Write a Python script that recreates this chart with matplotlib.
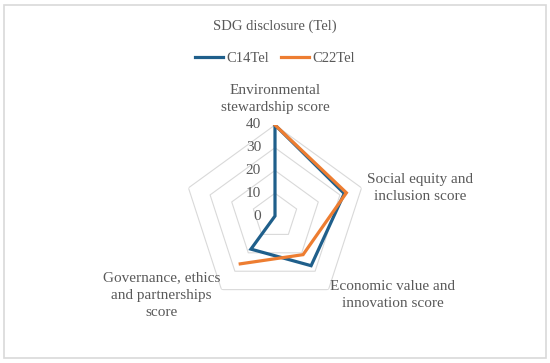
import numpy as np
import matplotlib.pyplot as plt
from matplotlib.patches import Rectangle

# Categories (5th axis has no label) and series values
categories = [
    "Environmental\nstewardship score",
    "Social equity and\ninclusion score",
    "Economic value and\ninnovation score",
    "Governance, ethics\nand partnerships\nscore",
    "",
]
c14_tel = [40, 32, 27, 18, 0]
c22_tel = [40, 33, 21, 26, np.nan]
ring_values = [10, 20, 30, 40]
tick_values = [0, 10, 20, 30, 40]

blue = "#1F5F8B"
orange = "#ED7D31"
grey_text = "#595959"
grid_col = "#D9D9D9"

plt.rcParams['font.family'] = ['Liberation Serif', 'DejaVu Serif']

fig = plt.figure(figsize=(5.5, 3.63), dpi=100)
fig.patches.append(Rectangle((0.007, 0.014), 0.986, 0.972, transform=fig.transFigure,
                             fill=False, edgecolor=grid_col, linewidth=1.2))

ax = fig.add_axes([184 / 550, 56 / 363, 182 / 550, 182 / 363], projection='polar')
ax.set_theta_offset(np.pi / 2)
ax.set_theta_direction(-1)
ax.set_ylim(0, 40)
ax.grid(False)
ax.spines['polar'].set_visible(False)
ax.set_xticks([])
ax.set_yticks([])
ax.patch.set_alpha(0)

n = len(categories)
theta = np.linspace(0, 2 * np.pi, n, endpoint=False)
theta_closed = np.append(theta, theta[0])

# pentagon grid rings
for v in ring_values:
    ax.plot(theta_closed, [v] * (n + 1), color=grid_col, linewidth=0.8, zorder=1)

ax.plot(theta_closed, c14_tel + [c14_tel[0]], color=blue, linewidth=2.3,
        solid_joinstyle='miter', zorder=3, label="C14Tel")
ax.plot(theta_closed, c22_tel + [c22_tel[0]], color=orange, linewidth=2.3,
        solid_joinstyle='miter', zorder=3, label="C22Tel")

for v in tick_values:
    ax.annotate(str(v), xy=(0, v), xytext=(-10, 0), textcoords='offset points',
                ha='right', va='center', fontsize=11, color=grey_text)

label_offsets = [(0, 19), (4, 0), (1, -4), (-1, -4), (0, 0)]
label_align = ['center', 'left', 'left', 'right', 'center']
for t, lab, off, ha in zip(theta, categories, label_offsets, label_align):
    if lab:
        ax.annotate(lab, xy=(t, 40), xytext=off, textcoords='offset points',
                    ha=ha, va='center', fontsize=11, color=grey_text,
                    multialignment='center', linespacing=1.4)

fig.text(0.5, 0.928, "SDG disclosure (Tel)", ha='center', va='center',
         fontsize=10.5, color=grey_text)
fig.legend(loc='center', bbox_to_anchor=(0.5, 0.838), ncol=2, frameon=False,
           fontsize=10.5, handlelength=1.9, handletextpad=0.2, columnspacing=0.87,
           labelcolor=grey_text)

fig.savefig("out.png", dpi=100)
